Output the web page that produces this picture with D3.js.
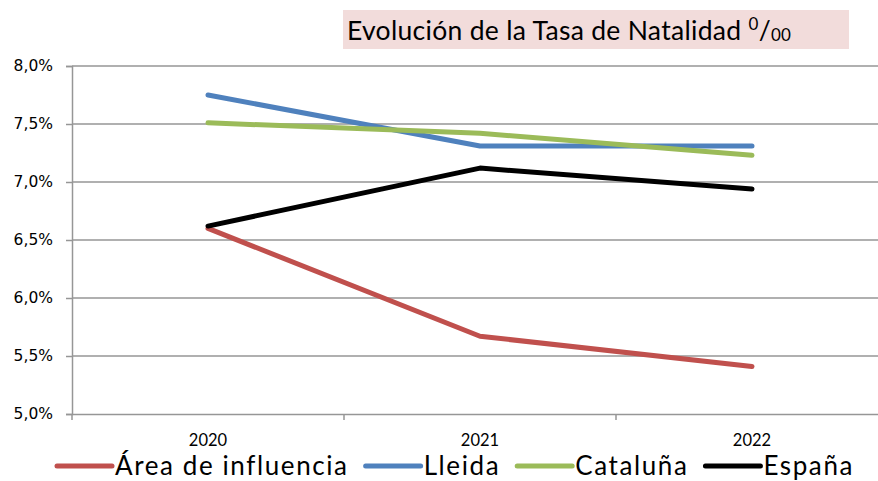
<!DOCTYPE html>
<html>
<head>
<meta charset="utf-8">
<script src="https://cdn.jsdelivr.net/npm/d3@7"></script>
<style>
  body { margin: 0; background: #fff; }
  svg { display: block; }
</style>
</head>
<body>
<svg id="chart" width="878" height="481"></svg>
<script>
// Tasa de natalidad (por mil)
var years = ['2020', '2021', '2022'];
var area = [6.60, 5.67, 5.41];
var lleida = [7.75, 7.31, 7.31];
var cataluna = [7.51, 7.42, 7.23];
var espana = [6.62, 7.12, 6.94];
var yTicks = [5.0, 5.5, 6.0, 6.5, 7.0, 7.5, 8.0];

var series = [
  {name: 'Área de influencia', values: area, color: '#c0504d'},
  {name: 'Lleida', values: lleida, color: '#4f81bd'},
  {name: 'Cataluña', values: cataluna, color: '#9bbb59'},
  {name: 'España', values: espana, color: '#000000'}
];

var svg = d3.select('#chart');
var margin = {top: 66, left: 72};
var width = 816, height = 348;
var g = svg.append('g').attr('transform', 'translate(' + margin.left + ', ' + margin.top + ')');

var x = d3.scaleBand().domain(years).range([0, width]);
var y = d3.scaleLinear().domain([5, 8]).range([height, 0]);

// Gridlines
g.selectAll('.grid')
  .data(yTicks.filter(function(d) { return d > 5; }))
  .enter().append('line')
  .attr('x1', 0).attr('x2', width)
  .attr('y1', function(d) { return y(d); })
  .attr('y2', function(d) { return y(d); })
  .attr('stroke', '#969696')
  .attr('stroke-width', 1.5);

// Y axis
var yAxis = g.append('g')
  .call(d3.axisLeft(y).tickValues(yTicks).tickSize(6).tickPadding(13)
    .tickFormat(function(d) { return d3.format('.1f')(d).replace('.', ',') + '%'; }));
yAxis.selectAll('line').attr('stroke', '#969696').attr('stroke-width', 1.5);
yAxis.select('.domain').attr('stroke', '#969696').attr('stroke-width', 1.5);
yAxis.selectAll('text')
  .attr('fill', '#000')
  .style('font-family', 'DejaVu Sans, Verdana, sans-serif')
  .style('font-size', '15.5px');

// X axis
var xAxis = g.append('g')
  .attr('transform', 'translate(0, ' + height + ')')
  .call(d3.axisBottom(x).tickSize(0).tickPadding(20));
xAxis.select('.domain').attr('stroke', '#969696').attr('stroke-width', 1.5);
xAxis.selectAll('text')
  .attr('fill', '#000')
  .style('font-family', 'Lato, Carlito, Calibri, sans-serif')
  .style('font-size', '16.5px');

// Category separator ticks
g.selectAll('.xtick')
  .data([0].concat(years.map(function(d) { return x(d) + x.bandwidth(); })))
  .enter().append('line')
  .attr('x1', function(d) { return d; }).attr('x2', function(d) { return d; })
  .attr('y1', height).attr('y2', height + 6)
  .attr('stroke', '#969696')
  .attr('stroke-width', 1.5);

// Lines
var line = d3.line()
  .x(function(d, i) { return x(years[i]) + x.bandwidth() / 2; })
  .y(function(d) { return y(d); });

g.selectAll('.series')
  .data(series)
  .enter().append('path')
  .attr('fill', 'none')
  .attr('stroke', function(d) { return d.color; })
  .attr('stroke-width', 5)
  .attr('stroke-linecap', 'round')
  .attr('stroke-linejoin', 'round')
  .attr('d', function(d) { return line(d.values); });

// Title
var title = svg.append('g');
title.append('rect')
  .attr('x', 343).attr('y', 10).attr('width', 506).attr('height', 39)
  .attr('fill', '#f2dcdb');
var tt = title.append('text')
  .attr('x', 347).attr('y', 40)
  .style('font-family', 'Lato, Carlito, Calibri, sans-serif')
  .style('font-size', '26.5px')
  .style('letter-spacing', '0.3px')
  .attr('fill', '#000');
tt.append('tspan').text('Evolución de la Tasa de Natalidad ');
tt.append('tspan').attr('dy', -10).style('font-size', '17px').text('0');
tt.append('tspan').attr('dy', 10).text('/');
tt.append('tspan').attr('dy', 1).style('font-size', '17px').text('00');

// Legend
var legend = svg.append('g').attr('transform', 'translate(0, 466)');
var lx = 57;
series.forEach(function(s) {
  legend.append('line')
    .attr('x1', lx).attr('x2', lx + 55)
    .attr('y1', 0).attr('y2', 0)
    .attr('stroke', s.color)
    .attr('stroke-width', 5)
    .attr('stroke-linecap', 'round');
  var t = legend.append('text')
    .attr('x', lx + 58).attr('y', 9)
    .style('font-family', 'Lato, Carlito, Calibri, sans-serif')
    .style('font-size', '26px')
    .style('letter-spacing', '1.6px')
    .attr('fill', '#000')
    .text(s.name);
  lx += 58 + t.node().getComputedTextLength() + 17;
});
</script>
</body>
</html>
